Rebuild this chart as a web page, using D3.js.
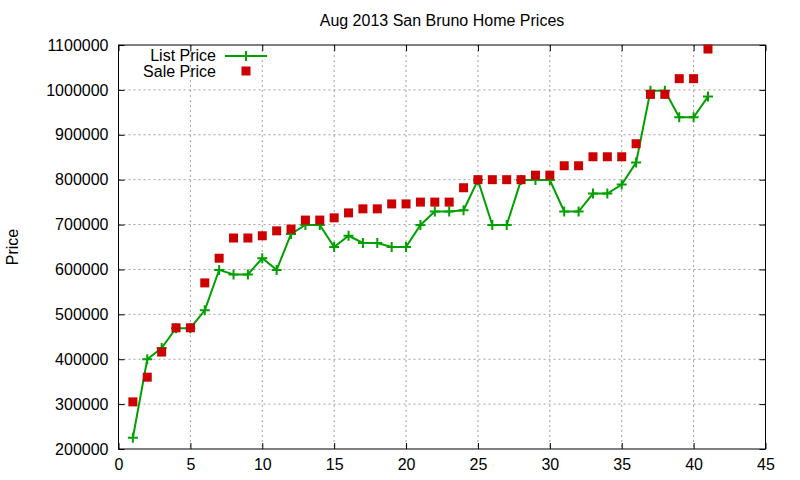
<!DOCTYPE html>
<html>
  <head>
    <meta charset="utf-8">
    <title>Aug 2013 San Bruno Home Prices</title>
    <style type="text/css">
     html, body {
       margin: 0;
       padding: 0;
       background: #fff;
     }
     svg text {
       font-family: "Liberation Sans", Arial, sans-serif;
       font-size: 16px;
       fill: #000;
     }
     .grid line {
       stroke: #a0a0a0;
       stroke-width: 1px;
       stroke-dasharray: 2,3;
     }
     .axis path, .axis line {
       stroke: #000;
       stroke-width: 1px;
     }
    </style>
  </head>
  <body>
    <svg width="800" height="480"></svg>
    <script src="https://cdn.jsdelivr.net/npm/d3@7"></script>
    <script>
     // house index, one per sale
     var homes = d3.range(1, 42);

     var listPrice = [
       225000, 400000, 425000, 469000, 469000, 509000, 599000, 589000, 589000, 625000,
       599000, 679000, 699000, 699000, 650000, 675000, 659000, 659000, 650000, 650000,
       699000, 729000, 729000, 732000, 799000, 699000, 699000, 799000, 799000, 799000,
       729000, 729000, 769000, 769000, 789000, 838000, 998000, 998000, 939000, 939000,
       985000
     ];

     var salePrice = [
       305000, 360000, 416000, 470000, 470000, 570000, 625000, 670000, 670000, 675000,
       686000, 690000, 710000, 710000, 715000, 726000, 735000, 735000, 746000, 746000,
       750000, 750000, 750000, 782000, 800000, 800000, 800000, 800000, 810000, 810000,
       831000, 831000, 851000, 851000, 851000, 880000, 990000, 990000, 1025000, 1025000,
       1091000
     ];

     var xTicks = [0, 5, 10, 15, 20, 25, 30, 35, 40, 45];
     var yTicks = [200000, 300000, 400000, 500000, 600000, 700000, 800000, 900000, 1000000, 1100000];

     var svg = d3.select("svg"),
         margin = {left: 118.5, right: 34.5, top: 45, bottom: 31},
         width = 800 - margin.left - margin.right,
         height = 480 - margin.top - margin.bottom;

     var green = "#00a000",
         red = "#cc0000";

     var x = d3.scaleLinear().domain([0, 45]).range([0, width]);
     var y = d3.scaleLinear().domain([200000, 1100000]).range([height, 0]);

     var g = svg.append("g")
                .attr("transform", `translate(${margin.left},${margin.top})`);

     // dotted grid
     var grid = g.append("g").attr("class", "grid");
     grid.selectAll("line.gx")
         .data(xTicks.slice(1, -1))
         .enter().append("line")
         .attr("x1", d => x(d)).attr("x2", d => x(d))
         .attr("y1", 0).attr("y2", height);
     grid.selectAll("line.gy")
         .data(yTicks.slice(1, -1))
         .enter().append("line")
         .attr("x1", 0).attr("x2", width)
         .attr("y1", d => y(d)).attr("y2", d => y(d));

     // axes, ticks pointing inward, mirrored on top and right
     g.append("g").attr("class", "axis")
      .attr("transform", `translate(0,${height})`)
      .call(d3.axisBottom(x).tickValues(xTicks).tickSizeInner(-6).tickSizeOuter(0).tickPadding(10))
      .call(a => a.select(".domain").remove());
     g.append("g").attr("class", "axis")
      .call(d3.axisLeft(y).tickValues(yTicks).tickFormat(d3.format("d")).tickSizeInner(-6).tickSizeOuter(0).tickPadding(10))
      .call(a => a.select(".domain").remove());
     g.append("g").attr("class", "axis")
      .call(d3.axisTop(x).tickValues(xTicks).tickSizeInner(-6).tickSizeOuter(0).tickFormat(""))
      .call(a => a.select(".domain").remove());
     g.append("g").attr("class", "axis")
      .attr("transform", `translate(${width},0)`)
      .call(d3.axisRight(y).tickValues(yTicks).tickSizeInner(-6).tickSizeOuter(0).tickFormat(""))
      .call(a => a.select(".domain").remove());

     g.selectAll(".axis text").style("font-size", "16px");
     g.selectAll(".axis .tick text").attr("fill", "#000");

     g.append("rect")
      .attr("width", width).attr("height", height)
      .attr("fill", "none").attr("stroke", "#000").attr("stroke-width", 1);

     // list price line
     var line = d3.line()
                  .x((d, i) => x(homes[i]))
                  .y(d => y(d));

     g.append("path")
      .datum(listPrice)
      .attr("d", line)
      .attr("fill", "none")
      .attr("stroke", green)
      .attr("stroke-width", 2);

     function plus(sel) {
       sel.append("path")
          .attr("d", "M-5,0H5M0,-5V5")
          .attr("stroke", green)
          .attr("stroke-width", 2)
          .attr("fill", "none");
     }

     g.append("g").selectAll("g")
      .data(listPrice)
      .enter().append("g")
      .attr("transform", (d, i) => `translate(${x(homes[i])},${y(d)})`)
      .call(plus);

     // sale price squares
     g.append("g").selectAll("rect")
      .data(salePrice)
      .enter().append("rect")
      .attr("x", (d, i) => x(homes[i]) - 4.5)
      .attr("y", d => y(d) - 4.5)
      .attr("width", 9).attr("height", 9)
      .attr("fill", red);

     // title and y label
     svg.append("text")
        .attr("x", margin.left + width / 2)
        .attr("y", 26)
        .attr("text-anchor", "middle")
        .text("Aug 2013 San Bruno Home Prices");

     svg.append("text")
        .attr("transform", "translate(18,247) rotate(-90)")
        .attr("text-anchor", "middle")
        .text("Price");

     // legend
     var legend = svg.append("g");
     legend.append("text")
           .attr("x", 216).attr("y", 61)
           .attr("text-anchor", "end")
           .text("List Price");
     legend.append("line")
           .attr("x1", 225).attr("x2", 267)
           .attr("y1", 56).attr("y2", 56)
           .attr("stroke", green).attr("stroke-width", 2);
     legend.append("g")
           .attr("transform", "translate(246,56)")
           .call(plus);
     legend.append("text")
           .attr("x", 216).attr("y", 77)
           .attr("text-anchor", "end")
           .text("Sale Price");
     legend.append("rect")
           .attr("x", 241.5).attr("y", 66.5)
           .attr("width", 9).attr("height", 9)
           .attr("fill", red);
    </script>
  </body>
</html>
